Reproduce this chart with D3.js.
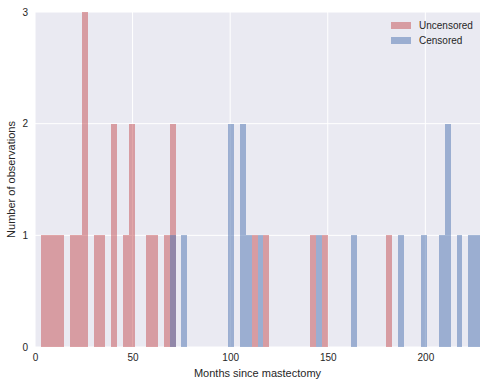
<!DOCTYPE html>
<html lang="en">
<head>
    <meta charset="UTF-8">
    <title>Mastectomy histogram</title>
    <script src="https://d3js.org/d3.v7.min.js"></script>
    <style>
        body { margin: 0; background: #fff; }
        text { font-family: "Liberation Sans", Arial, sans-serif; fill: #262626; }
    </style>
</head>
<body>
    <svg width="487" height="386"></svg>
    <script>
        // bins are 3 months wide, keyed by their left edge
        const binWidth = 3;
        const uncensoredBins = [3, 6, 9, 12, 18, 21, 24, 30, 33, 39, 45, 48, 57, 60, 66, 69, 111, 117, 141, 147, 180];
        const uncensoredCounts = [1, 1, 1, 1, 1, 1, 3, 1, 1, 2, 1, 2, 1, 1, 1, 2, 1, 1, 1, 1, 1];
        const censoredBins = [69, 75, 99, 105, 108, 114, 144, 162, 186, 198, 207, 210, 216, 222, 225];
        const censoredCounts = [1, 1, 2, 2, 1, 1, 1, 1, 1, 1, 1, 2, 1, 1, 1];
        const xTicks = [0, 50, 100, 150, 200];
        const yTicks = [0, 1, 2, 3];

        const width = 487;
        const height = 386;
        const margin = {top: 12, right: 7, bottom: 39, left: 35};

        const svg = d3.select("svg");

        const x = d3.scaleLinear()
            .domain([0, 228])
            .range([margin.left, width - margin.right]);

        const y = d3.scaleLinear()
            .domain([0, 3])
            .range([height - margin.bottom, margin.top]);

        // background
        svg.append("rect")
            .attr("x", margin.left)
            .attr("y", margin.top)
            .attr("width", width - margin.left - margin.right)
            .attr("height", height - margin.top - margin.bottom)
            .attr("fill", "#EAEAF2");

        // grid
        svg.append("g")
            .selectAll("line")
            .data(xTicks)
            .join("line")
            .attr("x1", d => x(d)).attr("x2", d => x(d))
            .attr("y1", margin.top).attr("y2", height - margin.bottom)
            .attr("stroke", "#fff").attr("stroke-width", 1);

        svg.append("g")
            .selectAll("line")
            .data(yTicks)
            .join("line")
            .attr("x1", margin.left).attr("x2", width - margin.right)
            .attr("y1", d => y(d)).attr("y2", d => y(d))
            .attr("stroke", "#fff").attr("stroke-width", 1);

        const series = [
            {name: "Uncensored", color: "#C44E52", bins: uncensoredBins, counts: uncensoredCounts},
            {name: "Censored", color: "#4C72B0", bins: censoredBins, counts: censoredCounts}
        ];

        series.forEach(s => {
            const data = s.bins.map((b, i) => ({x0: b, x1: b + binWidth, n: s.counts[i]}));
            svg.append("g")
                .attr("shape-rendering", "crispEdges")
                .selectAll("rect")
                .data(data)
                .join("rect")
                .attr("x", d => Math.round(x(d.x0)))
                .attr("width", d => Math.round(x(d.x1)) - Math.round(x(d.x0)))
                .attr("y", d => Math.round(y(d.n)))
                .attr("height", d => Math.round(y(0)) - Math.round(y(d.n)))
                .attr("fill", s.color)
                .attr("fill-opacity", 0.5);
        });

        // axes, no tick marks
        const xAxis = svg.append("g")
            .attr("transform", `translate(0,${height - margin.bottom})`)
            .call(d3.axisBottom(x).tickValues(xTicks).tickSize(0).tickPadding(7));
        const yAxis = svg.append("g")
            .attr("transform", `translate(${margin.left},0)`)
            .call(d3.axisLeft(y).tickValues(yTicks).tickFormat(d3.format("d")).tickSize(0).tickPadding(7));
        [xAxis, yAxis].forEach(a => {
            a.select(".domain").remove();
            a.selectAll("text")
                .style("font-family", "Liberation Sans, Arial, sans-serif")
                .style("font-size", "10px")
                .attr("fill", "#262626");
        });

        svg.append("text")
            .attr("x", (margin.left + width - margin.right) / 2)
            .attr("y", 377)
            .attr("text-anchor", "middle")
            .style("font-size", "11px")
            .text("Months since mastectomy");

        svg.append("text")
            .attr("transform", `translate(15,${(margin.top + height - margin.bottom) / 2}) rotate(-90)`)
            .attr("text-anchor", "middle")
            .style("font-size", "11px")
            .text("Number of observations");

        // legend
        const legend = svg.append("g")
            .attr("transform", "translate(391,22)");
        series.forEach((s, i) => {
            const row = legend.append("g").attr("transform", `translate(0,${i * 15})`);
            row.append("rect")
                .attr("width", 20).attr("height", 7)
                .attr("fill", s.color).attr("fill-opacity", 0.5);
            row.append("text")
                .attr("x", 28).attr("y", 7)
                .style("font-size", "10px")
                .text(s.name);
        });
    </script>
</body>
</html>
